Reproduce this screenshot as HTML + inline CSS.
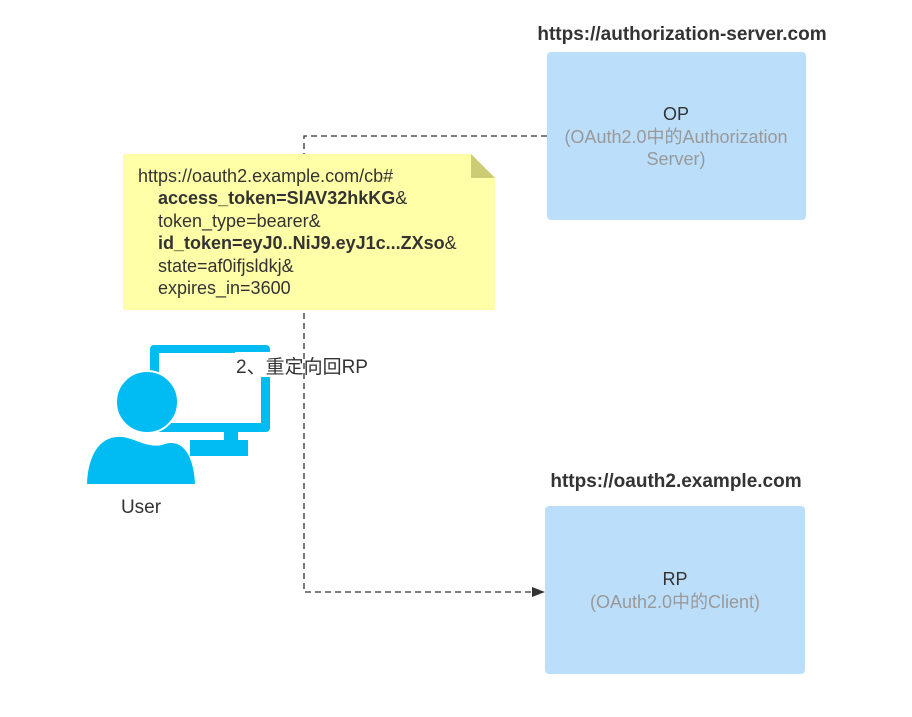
<!DOCTYPE html>
<html><head><style>body{margin:0;background:#fff}</style></head><body>
<svg width="912" height="712" xmlns="http://www.w3.org/2000/svg" font-family="Liberation Sans, Noto Sans CJK SC, sans-serif">
<rect width="912" height="712" fill="#fff"/>
<path d="M547 136 H304 V592 H535" fill="none" stroke="#333" stroke-width="1.3" stroke-dasharray="6,4"/>
<path d="M545 592 L532 587 L532 597 Z" fill="#333"/>
<text x="682" y="40" font-size="19" font-weight="bold" text-anchor="middle" fill="#333">https://authorization-server.com</text>
<rect x="547" y="52" width="259" height="168" rx="4" fill="#bbdefb"/>
<text x="676" y="120" font-size="18" text-anchor="middle" fill="#333">OP</text>
<text x="676" y="143" font-size="18" text-anchor="middle" fill="#999">(OAuth2.0中的Authorization</text>
<text x="676" y="165" font-size="18" text-anchor="middle" fill="#999">Server)</text>
<text x="676" y="487" font-size="19" font-weight="bold" text-anchor="middle" fill="#333">https://oauth2.example.com</text>
<rect x="545" y="506" width="260" height="168" rx="4" fill="#bbdefb"/>
<text x="675" y="585" font-size="18" text-anchor="middle" fill="#333">RP</text>
<text x="675" y="608" font-size="18" text-anchor="middle" fill="#999">(OAuth2.0中的Client)</text>
<path d="M123 154 H471 L495 178 V310 H123 Z" fill="#ffffa8"/>
<path d="M471 154 L495 178 H471 Z" fill="#cccc77"/>
<g font-size="18" fill="#333">
<text x="138" y="182">https://oauth2.example.com/cb#</text>
<text x="158" y="204"><tspan font-weight="bold">access_token=SlAV32hkKG</tspan>&amp;</text>
<text x="158" y="227">token_type=bearer&amp;</text>
<text x="158" y="249"><tspan font-weight="bold">id_token=eyJ0..NiJ9.eyJ1c...ZXso</tspan>&amp;</text>
<text x="158" y="272">state=af0ifjsldkj&amp;</text>
<text x="158" y="294">expires_in=3600</text>
</g>
<rect x="150" y="345" width="120" height="87" rx="4" fill="#00bcf2"/>
<rect x="159" y="353" width="102" height="70" fill="#fff"/>
<rect x="224" y="430" width="14" height="14" fill="#00bcf2"/>
<rect x="190" y="440" width="58" height="16" fill="#00bcf2"/>
<circle cx="147" cy="402" r="31" fill="#00bcf2" stroke="#fff" stroke-width="2"/>
<path d="M87 484 C88 455 100 435 122 437 C135 438 150 450 165 444 C185 438 194 460 195 484 Z" fill="#00bcf2"/>
<text x="141" y="513" font-size="19" text-anchor="middle" fill="#333">User</text>
<rect x="235" y="352" width="36" height="25" fill="#fff"/>
<text x="236" y="373" font-size="19" fill="#333">2、重定向回RP</text>
</svg>
</body></html>
